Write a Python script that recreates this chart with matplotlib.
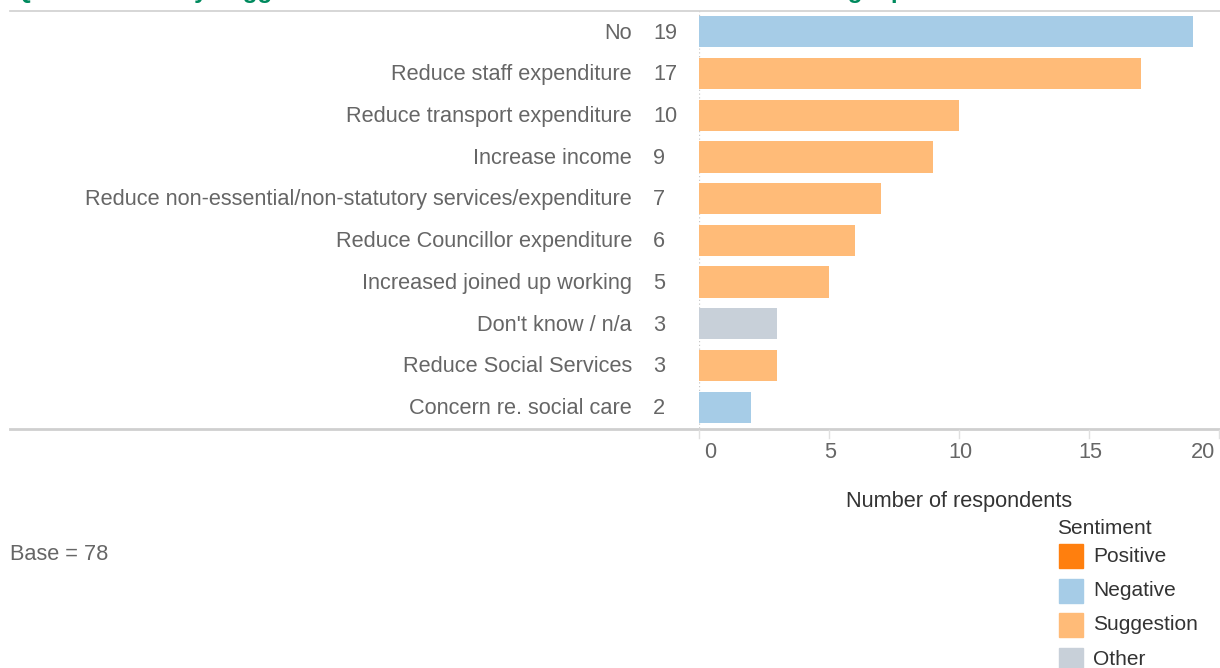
import matplotlib
matplotlib.use("Agg")
import matplotlib.pyplot as plt
from matplotlib.lines import Line2D
import matplotlib.transforms as mtransforms

plt.rcParams['font.family'] = ['Liberation Sans', 'DejaVu Sans']

categories = [
    "No",
    "Reduce staff expenditure",
    "Reduce transport expenditure",
    "Increase income",
    "Reduce non-essential/non-statutory services/expenditure",
    "Reduce Councillor expenditure",
    "Increased joined up working",
    "Don't know / n/a",
    "Reduce Social Services",
    "Concern re. social care",
]
counts = [19, 17, 10, 9, 7, 6, 5, 3, 3, 2]
sentiment = ["Negative", "Suggestion", "Suggestion", "Suggestion", "Suggestion",
             "Suggestion", "Suggestion", "Other", "Suggestion", "Negative"]
sentiment_colors = {
    "Positive": "#FF7F0E",
    "Negative": "#A6CCE7",
    "Suggestion": "#FFBB78",
    "Other": "#C8D0D9",
}
x_ticks = [0, 5, 10, 15, 20]
base_n = 78
title = "Q5 Are there any suggested additional services or reductions to the budget plans?"

W, H = 1220, 668
fig = plt.figure(figsize=(W / 100, H / 100), dpi=100)

def fx(px):
    return px / W

def fy(py):
    return 1 - py / H

ax = fig.add_axes([fx(699), fy(428), fx(1219) - fx(699), fy(11) - fy(428)])
ypos = list(range(len(categories)))
ax.barh(ypos, counts, height=0.75,
        color=[sentiment_colors[s] for s in sentiment], zorder=2)
ax.set_xlim(0, 20)
ax.set_ylim(len(categories) - 0.5, -0.5)
ax.axis("off")
ax.axvline(0, color="#C8C8C8", lw=0.9, ls=(0, (1, 2)), zorder=1)

label_color = "#666666"
fs = 15.7
trans_lbl = mtransforms.blended_transform_factory(fig.transFigure, ax.transData)
for y, cat, v in zip(ypos, categories, counts):
    fig.text(fx(632), 0, cat, transform=trans_lbl, ha="right", va="center",
             fontsize=fs, color=label_color).set_y(y + 0.03)
    fig.text(fx(653), 0, str(v), transform=trans_lbl, ha="left", va="center",
             fontsize=fs, color=label_color).set_y(y + 0.03)

# frame lines across the full width
fig.add_artist(Line2D([fx(10), 1], [fy(11), fy(11)], color="#CFCFCF", lw=1.2))
fig.add_artist(Line2D([fx(10), 1], [fy(428.5), fy(428.5)], color="#CFCFCF", lw=2.0))

# x-axis ticks and labels
trans_tick = mtransforms.blended_transform_factory(ax.transData, fig.transFigure)
for t in x_ticks:
    fig.add_artist(Line2D([t, t], [fy(430), fy(438)], color="#E0E0E0", lw=1.0,
                          transform=trans_tick))
    ha = "center"
    off = 0.05
    if t == x_ticks[0]:
        ha, off = "left", 0.2
    elif t == x_ticks[-1]:
        ha, off = "right", -0.15
    fig.text(t + off, fy(453), str(t), transform=trans_tick, ha=ha, va="center",
             fontsize=fs, color=label_color)

fig.text(fx(959), fy(502), "Number of respondents", ha="center", va="center",
         fontsize=fs, color="#333333")

fig.text(fx(10), fy(554), f"Base = {base_n}", ha="left", va="center",
         fontsize=fs, color=label_color)

# title (only its lower edge falls inside the canvas)
fig.text(fx(14), fy(-2), title, ha="left", va="baseline", fontsize=17.5,
         fontweight="bold", color="#008A5E")

# legend
fig.text(fx(1057), fy(529), "Sentiment", ha="left", va="center",
         fontsize=15, color="#333333")
for i, name in enumerate(["Positive", "Negative", "Suggestion", "Other"]):
    yc = 556 + i * 34.5
    fig.add_artist(plt.Rectangle((fx(1059), fy(yc + 12)), fx(24), 24 / H,
                                 transform=fig.transFigure,
                                 color=sentiment_colors[name]))
    fig.text(fx(1093), fy(yc), name, ha="left", va="center",
             fontsize=15, color="#333333")

fig.savefig("out.png", dpi=100)
